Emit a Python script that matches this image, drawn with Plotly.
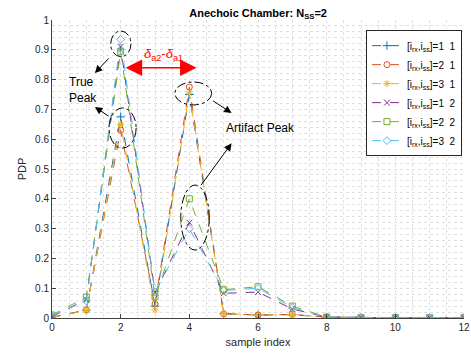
import plotly.graph_objects as go

sample_index = list(range(13))

series_names = [
    "[i<sub>rx</sub>,i<sub>ss</sub>]=1  1",
    "[i<sub>rx</sub>,i<sub>ss</sub>]=2  1",
    "[i<sub>rx</sub>,i<sub>ss</sub>]=3  1",
    "[i<sub>rx</sub>,i<sub>ss</sub>]=1  2",
    "[i<sub>rx</sub>,i<sub>ss</sub>]=2  2",
    "[i<sub>rx</sub>,i<sub>ss</sub>]=3  2",
]

pdp_1_1 = [0.003, 0.026, 0.675, 0.040, 0.750, 0.015, 0.010, 0.011, 0.003, 0.001, 0.001, 0.001, 0.001]
pdp_2_1 = [0.002, 0.027, 0.630, 0.047, 0.775, 0.014, 0.010, 0.012, 0.003, 0.001, 0.001, 0.001, 0.001]
pdp_3_1 = [0.002, 0.025, 0.650, 0.027, 0.755, 0.015, 0.010, 0.011, 0.003, 0.001, 0.001, 0.001, 0.001]
pdp_1_2 = [0.005, 0.062, 0.910, 0.085, 0.320, 0.083, 0.087, 0.030, 0.003, 0.001, 0.001, 0.001, 0.001]
pdp_2_2 = [0.010, 0.070, 0.895, 0.071, 0.400, 0.095, 0.105, 0.040, 0.003, 0.001, 0.001, 0.001, 0.001]
pdp_3_2 = [0.008, 0.057, 0.935, 0.088, 0.300, 0.092, 0.100, 0.035, 0.003, 0.001, 0.001, 0.001, 0.001]

all_series = [pdp_1_1, pdp_2_1, pdp_3_1, pdp_1_2, pdp_2_2, pdp_3_2]
colors = ["#0072BD", "#D95319", "#EDB120", "#7E2F8E", "#77AC30", "#4DBEEE"]
symbols = ["cross-thin-open", "circle-open", "asterisk-open", "x-thin-open", "square-open", "diamond-open"]

FONT = "Liberation Sans, Arial, sans-serif"

fig = go.Figure()
for name, ys, c, s in zip(series_names, all_series, colors, symbols):
    fig.add_trace(go.Scatter(
        x=sample_index, y=ys, name=name, mode="lines+markers",
        line=dict(color=c, width=1, dash="dash"),
        marker=dict(symbol=s, size=6, color=c, line=dict(color=c, width=1)),
    ))

# dash-dot ellipses
ellipses = [
    (1.71, 0.877, 2.30, 0.963),
    (1.66, 0.570, 2.45, 0.705),
    (3.58, 0.715, 4.65, 0.792),
    (3.75, 0.228, 4.58, 0.446),
]
for x0, y0, x1, y1 in ellipses:
    fig.add_shape(type="circle", xref="x", yref="y", x0=x0, y0=y0, x1=x1, y1=y1,
                  line=dict(color="black", width=1, dash="dashdot"))

# black arrows (tail -> head)
arrows = [
    ((1.69, 0.876), (1.25, 0.822)),
    ((1.69, 0.674), (1.25, 0.708)),
    ((4.65, 0.732), (5.23, 0.688)),
    ((4.31, 0.441), (5.23, 0.586)),
]
for (tx, ty), (hx, hy) in arrows:
    fig.add_annotation(x=hx, y=hy, ax=tx, ay=ty, xref="x", yref="y", axref="x", ayref="y",
                       text="", showarrow=True, arrowhead=2, arrowsize=1.5, arrowwidth=1,
                       arrowcolor="black")

# red double arrow
fig.add_annotation(x=4.21, y=0.840, ax=2.10, ay=0.840, xref="x", yref="y", axref="x", ayref="y",
                   text="", showarrow=True, arrowhead=2, startarrowhead=2, arrowside="end+start",
                   arrowsize=2.2, startarrowsize=2.2, arrowwidth=1.5, arrowcolor="#FF0000")
fig.add_annotation(x=3.26, y=0.885, xref="x", yref="y", showarrow=False,
                   text="<i>δ</i><sub>a2</sub>-<i>δ</i><sub>a1</sub>",
                   font=dict(family=FONT, size=13, color="#FF0000"))

fig.add_annotation(x=0.43, y=0.765, xref="x", yref="y", showarrow=False, xanchor="left",
                   align="left", text="True<br>Peak",
                   font=dict(family=FONT, size=12, color="black"))
fig.add_annotation(x=5.0, y=0.638, xref="x", yref="y", showarrow=False, xanchor="left",
                   text="Artifact Peak", font=dict(family=FONT, size=12, color="black"))

axis_common = dict(
    showline=True, linecolor="#404040", linewidth=1, mirror=False,
    ticks="inside", ticklen=4, tickcolor="#404040", automargin=False,
    showgrid=True, gridcolor="#E0E0E0", griddash="dot", gridwidth=1,
    zeroline=False, tickfont=dict(family=FONT, size=10, color="#262626"),
)

fig.update_xaxes(range=[0, 12], dtick=2, tick0=0,
                 minor=dict(dtick=0.5, showgrid=True, gridcolor="#E0E0E0", griddash="dot", ticks=""),
                 title=dict(text="sample index", font=dict(family=FONT, size=11, color="#262626"), standoff=6),
                 **axis_common)
fig.update_yaxes(range=[0, 1], dtick=0.1, tick0=0,
                 minor=dict(dtick=0.02, showgrid=True, gridcolor="#E0E0E0", griddash="dot", ticks=""),
                 title=dict(text="PDP", font=dict(family=FONT, size=11, color="#262626"), standoff=6),
                 **axis_common)

fig.update_layout(
    width=471, height=358,
    margin=dict(l=52, r=7, t=20, b=40, autoexpand=False),
    paper_bgcolor="white", plot_bgcolor="white",
    title=dict(text="<b>Anechoic Chamber: N<sub>SS</sub>=2</b>", x=0.548, xanchor="center",
               y=0.975, yanchor="top", font=dict(family=FONT, size=11, color="black")),
    legend=dict(x=0.762, y=0.966, xanchor="left", yanchor="top", bgcolor="white",
                bordercolor="#262626", borderwidth=1, font=dict(family=FONT, size=10, color="black"),
                itemwidth=30, tracegroupgap=0),
    showlegend=True,
)

fig.write_html("out.html")
